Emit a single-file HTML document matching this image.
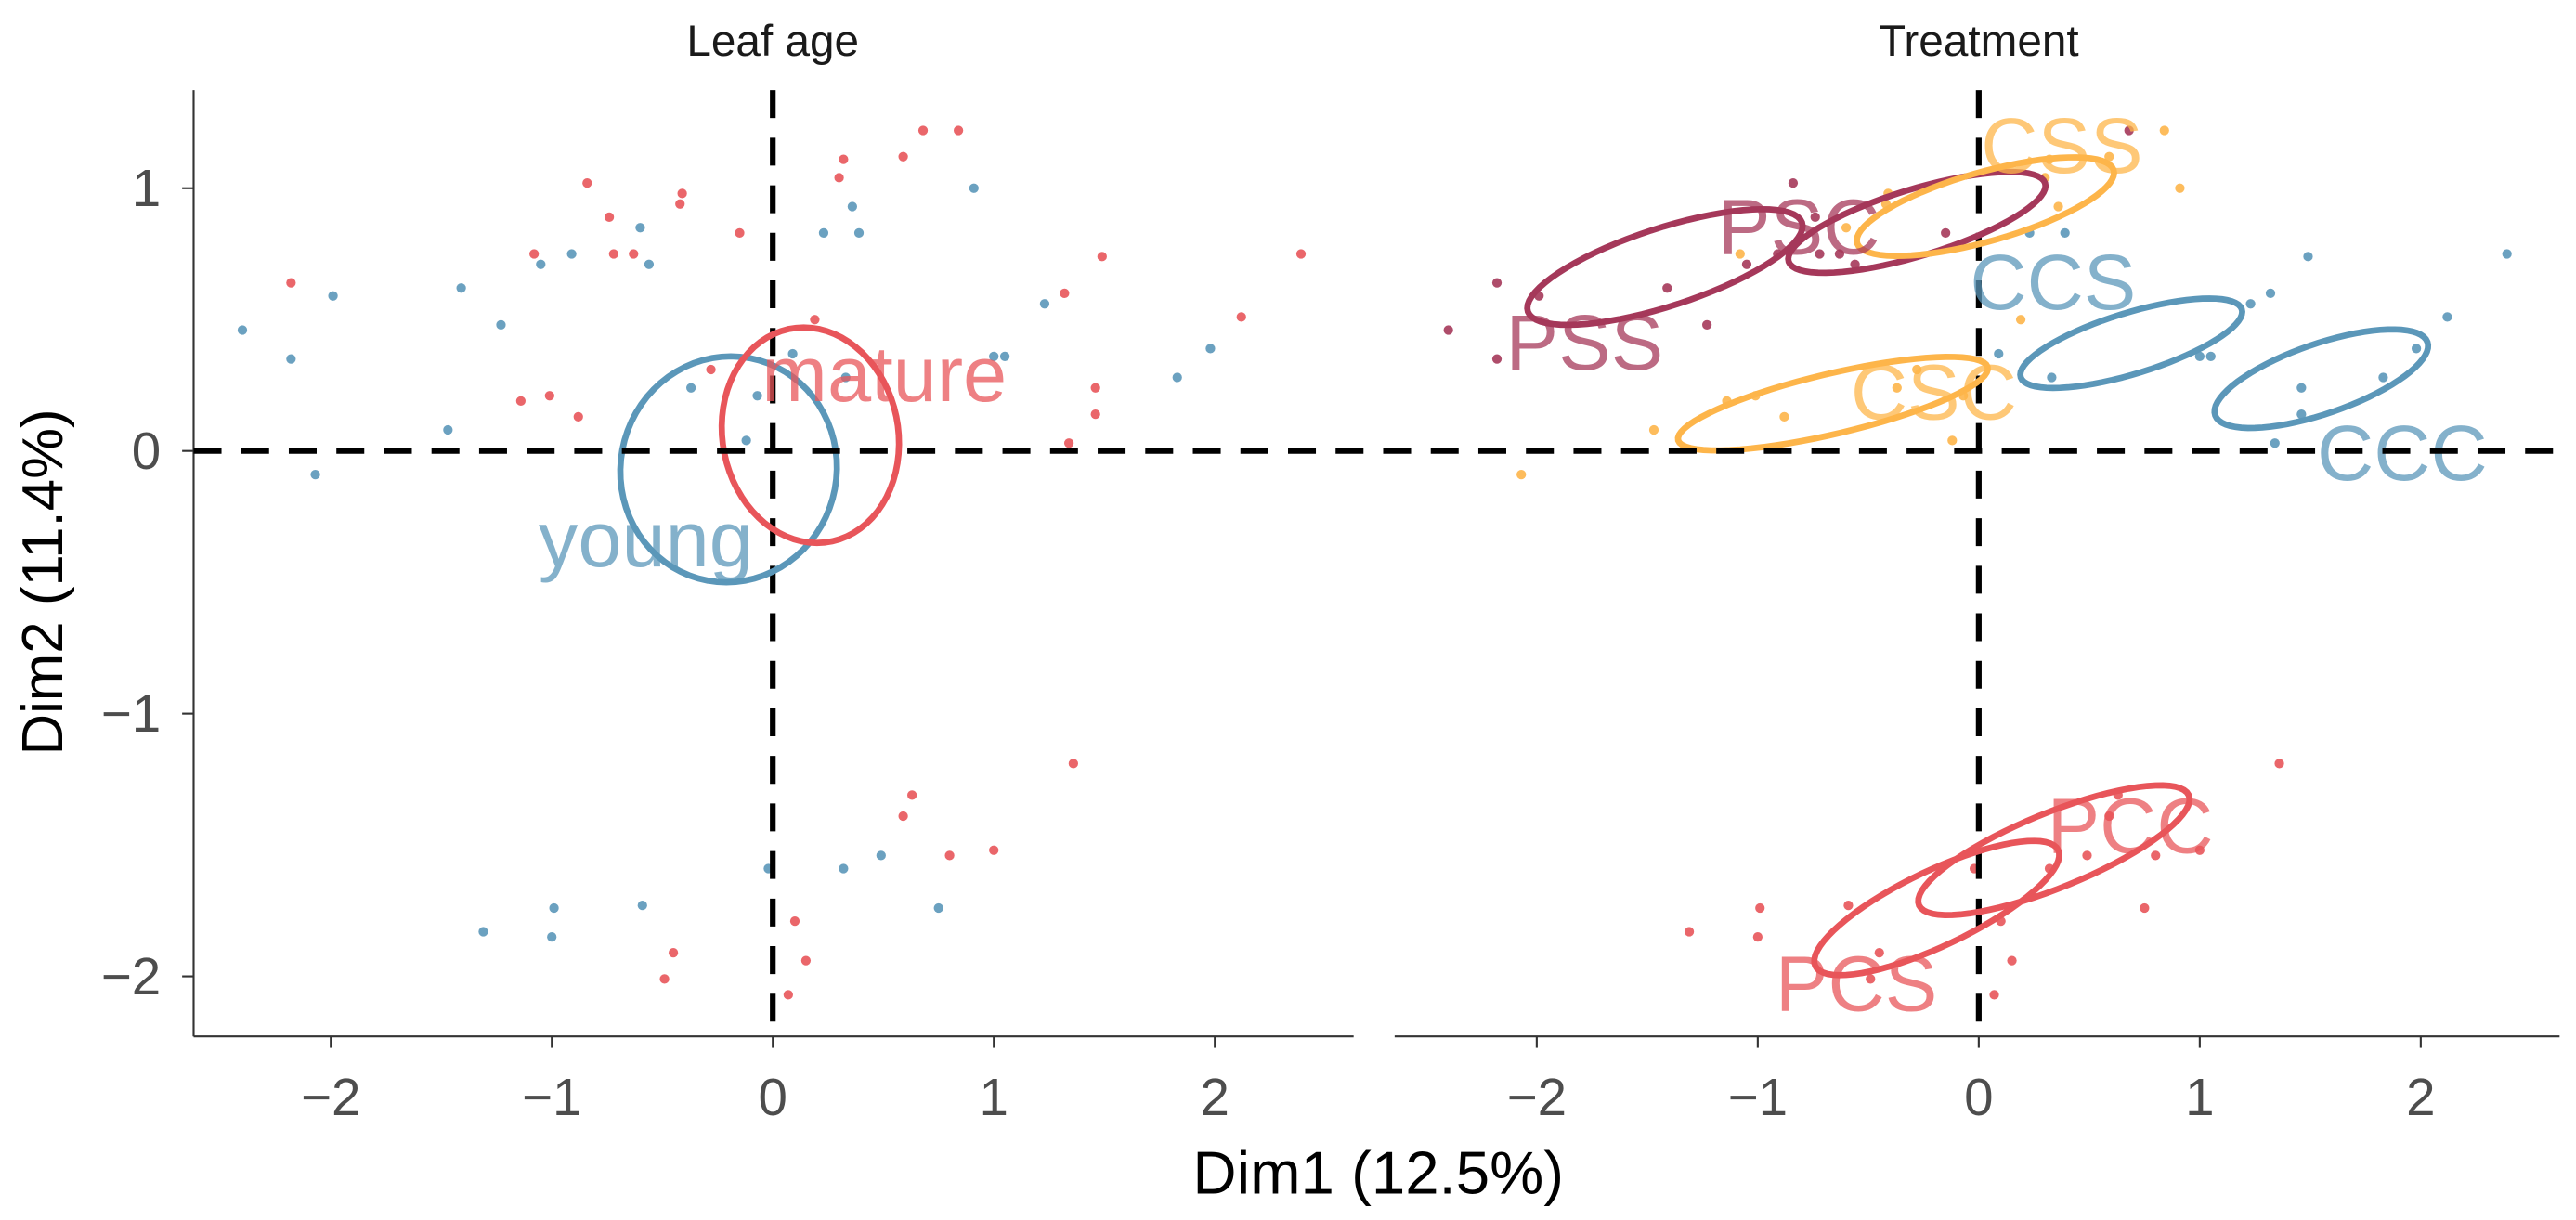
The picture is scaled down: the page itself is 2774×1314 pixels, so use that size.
<!DOCTYPE html>
<html><head><meta charset="utf-8"><style>
html,body{margin:0;padding:0;background:#fff;}
svg{display:block;font-family:"Liberation Sans",Arial,sans-serif;}
</style></head><body>
<svg id="chart" width="2774" height="1314" viewBox="0 0 1570 744" preserveAspectRatio="none" xmlns="http://www.w3.org/2000/svg">
<g id="root"></g>
</svg>
<script>
// Data (Dim1, Dim2), leaf age, treatment
const dim1 = [-2.40,-2.18,-2.18,-1.99,-2.07,-1.47,-1.41,-1.23,-1.14,-1.01,-1.08,-1.05,-0.91,-0.88,-0.84,-0.74,-0.72,-0.63,-0.60,-0.56,-0.42,-0.41,-0.37,-0.28,-0.15,-0.12,-0.07,0.09,0.19,0.23,0.30,0.32,0.36,0.39,0.59,0.68,0.84,0.91,0.33,1.00,1.05,1.23,1.32,1.46,1.46,1.49,1.34,1.83,1.98,2.12,2.39,1.36,0.63,0.59,0.49,0.32,0.80,1.00,-0.02,0.75,0.10,0.15,0.07,-0.45,-0.49,-0.59,-0.99,-1.00,-1.31];
const dim2 = [0.46,0.64,0.35,0.59,-0.09,0.08,0.62,0.48,0.19,0.21,0.75,0.71,0.75,0.13,1.02,0.89,0.75,0.75,0.85,0.71,0.94,0.98,0.24,0.31,0.83,0.04,0.21,0.37,0.50,0.83,1.04,1.11,0.93,0.83,1.12,1.22,1.22,1.00,0.28,0.36,0.36,0.56,0.60,0.24,0.14,0.74,0.03,0.28,0.39,0.51,0.75,-1.19,-1.31,-1.39,-1.54,-1.59,-1.54,-1.52,-1.59,-1.74,-1.79,-1.94,-2.07,-1.91,-2.01,-1.73,-1.74,-1.85,-1.83];
const ageGroup = "yryyyyyyrrrybrrrrrbbrrbrrbbbrbrrbbrrrbbbbbrrrrrbbrrrrrbbrrbbrrrrrbbbb".split("");
const treatment = ["PSS","PSS","PSS","PSS","CSC","CSC","PSS","PSS","CSC","CSC","CSS","PSS","PSC","CSC","PSC","PSC","PSC","PSC","CSS","PSC","CSS","CSS","CSC","CSC","PSC","CSC","CSC","CCS","CSC","CCS","CSS","CSS","CSS","CCS","CSS","PSC","CSS","CSS","CCS","CCS","CCS","CCS","CCC","CCC","CCC","CCC","CCC","CCC","CCC","CCC","CCC","PCC","PCC","PCC","PCC","PCC","PCC","PCC","PCS","PCC","PCS","PCS","PCS","PCS","PCS","PCS","PCS","PCS","PCS"];
const xTicks = [-2,-1,0,1,2];
const yTicks = [1,0,-1,-2];
const yTickLabels = ["1","0","\u22121","\u22122"];
const xTickLabels = ["\u22122","\u22121","0","1","2"];
// ellipses: name, cx, cy, A (ax,ay), B (bx,by) in data units
const ageEllipses = [
 ["young",-0.20,-0.07,0.49,0,0.01,0.43],
 ["mature",0.17,0.06,0.40,0,-0.03,0.41]];
const trtEllipses = [
 ["PSS",-1.42,0.70,0.62,0.17,0.06,-0.14],
 ["PSC",-0.28,0.87,0.58,0.15,0.05,-0.12],
 ["CSS",0.03,0.93,0.58,0.14,0.05,-0.125],
 ["CSC",-0.66,0.18,0.70,0.14,0.04,-0.11],
 ["CCS",0.69,0.41,0.50,0.13,0.045,-0.11],
 ["CCC",1.55,0.275,0.48,0.14,0.055,-0.125],
 ["PCS",-0.19,-1.74,0.55,0.22,0.07,-0.13],
 ["PCC",0.34,-1.52,0.61,0.21,0.07,-0.13]];
// label anchor positions (data units, left-baseline)
const ageLabels = [["young",-1.06,-0.44],["mature",-0.05,0.19]];
const trtLabels = [["PSS",-2.14,0.31],["PSC",-1.18,0.75],["CSS",0.01,1.06],["CCS",-0.04,0.54],["CSC",-0.58,0.12],["CCC",1.53,-0.11],["PCC",0.31,-1.53],["PCS",-0.92,-2.13]];

const col = {PSS:"#a5385a",PSC:"#a5385a",CSS:"#fdb54a",CSC:"#fdb54a",CCS:"#5b97b9",CCC:"#5b97b9",PCS:"#e8555a",PCC:"#e8555a",young:"#5b97b9",mature:"#e8555a"};
const ageCol = g => g==="r" ? "#e8555a" : "#5b97b9";

const NS="http://www.w3.org/2000/svg";
const root=document.getElementById("root");
function el(tag,attrs,parent){const e=document.createElementNS(NS,tag);for(const k in attrs)e.setAttribute(k,attrs[k]);(parent||root).appendChild(e);return e;}
const yScale = v => 275 - v*160.2;
const panels = [{x0:118,x1:825,zero:471,title:"Leaf age",name:"leaf-age"},{x0:850,x1:1560,zero:1206,title:"Treatment",name:"treatment"}];
const kx = 134.7;

panels.forEach((p,pi)=>{
  const xs = v => p.zero + v*kx;
  const g = el("g",{});
  
  
  const t = el("text",{x:p.zero,y:34,"text-anchor":"middle","font-size":27,fill:"#1a1a1a"},g);
  t.textContent=p.title;
  
  
  const ax = el("line",{x1:p.x0,x2:p.x1,y1:632,y2:632,stroke:"#333","stroke-width":1.2},g);
  
  
  xTicks.forEach((v,i)=>{
    el("line",{x1:xs(v),x2:xs(v),y1:632,y2:639,stroke:"#333","stroke-width":1.2},g);
    const tl=el("text",{x:xs(v),y:680,"text-anchor":"middle","font-size":32,fill:"#4d4d4d"},g);
    tl.textContent=xTickLabels[i];
    
    
  });
  if(pi===0){
    const ay = el("line",{x1:118,x2:118,y1:55,y2:632,stroke:"#333","stroke-width":1.2},g);
    
    
    yTicks.forEach((v,i)=>{
      el("line",{x1:111,x2:118,y1:yScale(v),y2:yScale(v),stroke:"#333","stroke-width":1.2},g);
      const tl=el("text",{x:98,y:yScale(v)+11,"text-anchor":"end","font-size":32,fill:"#4d4d4d"},g);
      tl.textContent=yTickLabels[i];
      
      
    });
  }
  for(let i=0;i<dim1.length;i++){
    const c = pi===0 ? ageCol(ageGroup[i]) : col[treatment[i]];
    const pt=el("circle",{cx:xs(dim1[i]),cy:yScale(dim2[i]),r:2.9,fill:c,"fill-opacity":0.9},g);
    
    
  }
  const vl=el("line",{x1:p.zero,x2:p.zero,y1:55,y2:632,stroke:"#000","stroke-width":3.5,"stroke-dasharray":"17 12"},g);
  
  
  const ells = pi===0?ageEllipses:trtEllipses;
  ells.forEach(e=>{
    let d="";
    for(let k=0;k<=72;k++){const tt=k/72*2*Math.PI;
      const X=e[1]+Math.cos(tt)*e[3]+Math.sin(tt)*e[5];
      const Y=e[2]+Math.cos(tt)*e[4]+Math.sin(tt)*e[6];
      d+=(k?"L":"M")+xs(X).toFixed(2)+" "+yScale(Y).toFixed(2);}
    const pe=el("path",{d:d+"Z",fill:"none",stroke:col[e[0]],"stroke-width":3.8},g);
    
    
  });
  const labs = pi===0?ageLabels:trtLabels;
  labs.forEach(l=>{
    const tx=el("text",{x:xs(l[1]),y:yScale(l[2]),"font-size":48,fill:col[l[0]],"fill-opacity":0.75},g);
    tx.textContent=l[0];
    
    
  });
});
const hl=el("line",{x1:118,x2:1560,y1:yScale(0),y2:yScale(0),stroke:"#000","stroke-width":3.5,"stroke-dasharray":"17 12"});


const xt=el("text",{x:840,y:728,"text-anchor":"middle","font-size":37,fill:"#000"});
xt.textContent="Dim1 (12.5%)";


const yt=el("text",{x:0,y:0,"text-anchor":"middle","font-size":35,fill:"#000",transform:"translate(38,355) rotate(-90)"});
yt.textContent="Dim2 (11.4%)";


</script>
</body></html>
